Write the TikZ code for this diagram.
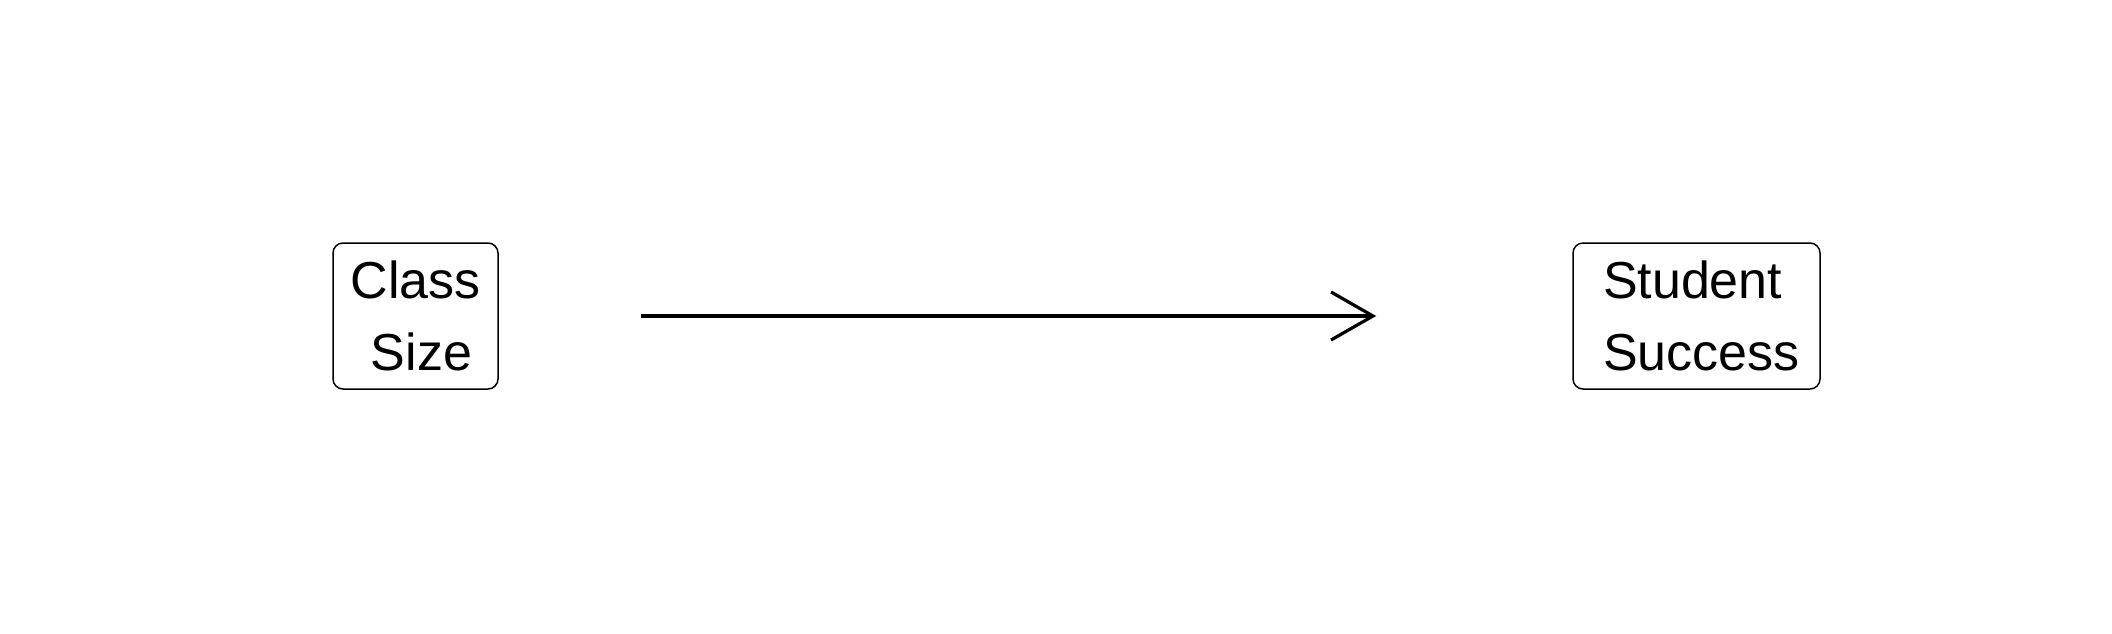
\documentclass[tikz,border=0pt]{standalone}
\usepackage{fontspec}
\setmainfont{Liberation Sans}
\usetikzlibrary{arrows.meta}
\begin{document}
\begin{tikzpicture}[x=0.5pt,y=-0.5pt,
  varbox/.style={draw, line width=0.75pt, rounded corners=5pt, inner sep=0pt,
    minimum height=73pt, font=\fontsize{26}{36}\selectfont},
  causal/.style={line width=1.6pt, -{Straight Barb[length=21pt,width=24pt,line width=1.6pt]}}]
\useasboundingbox (0,0) rectangle (2112,633);
\node[varbox, minimum width=82.5pt, align=center] (cs) at (415.5,316) {Class\\\hspace{6pt}Size};
\node[varbox, text width=123.5pt, align=left] (ss) at (1696.5,316) {\hspace*{15pt}Student\\\hspace*{15pt}Success};
\draw[causal] ([xshift=71pt]cs.east) -- ([xshift=-98pt]ss.west);
\end{tikzpicture}
\end{document}
